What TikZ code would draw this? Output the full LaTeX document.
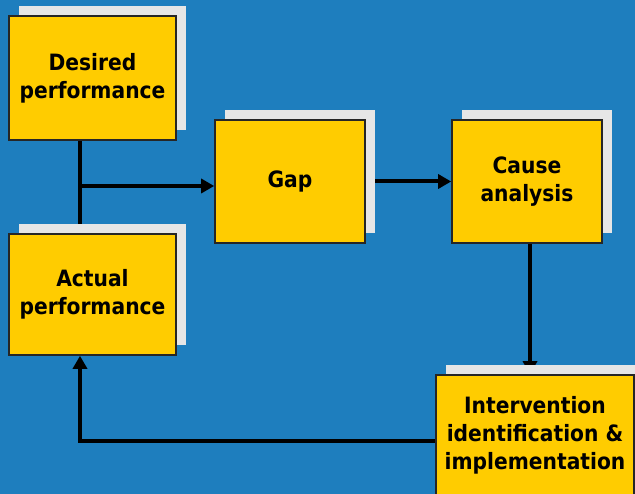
\documentclass[tikz,border=0pt]{standalone}
\usepackage{fontspec}
\setmainfont{DejaVu Sans Condensed}
\usetikzlibrary{arrows.meta,shadows}
\definecolor{slideblue}{RGB}{30,126,190}
\definecolor{boxyellow}{RGB}{255,204,0}
\definecolor{shadowgray}{RGB}{230,230,230}
\pgfdeclarelayer{backdrop}
\pgfdeclarelayer{links}
\pgfsetlayers{backdrop,links,main}
\tikzset{
  stepbox/.style={draw=black!85, line width=1.6pt, fill=boxyellow, align=center,
    inner sep=0pt, font=\bfseries\fontsize{22.5}{28}\selectfont,
    general shadow={shadow xshift=10pt, shadow yshift=10pt, fill=shadowgray}},
  link/.style={line width=4pt, -{Triangle[length=13pt,width=14pt]}}
}
\begin{document}
\begin{tikzpicture}[x=1pt, y=-1pt]
		\useasboundingbox (0,0) rectangle (635,494);
		\begin{pgfonlayer}{backdrop}
		\fill[slideblue] (0,0) rectangle (635,494);
		\end{pgfonlayer}
		% boxes
		\node[stepbox, minimum width=167pt, minimum height=124pt] (desired) at (92.5,78) {Desired\\performance};
		\node[stepbox, minimum width=167pt, minimum height=121pt] (actual) at (92.5,294.5) {Actual\\performance};
		\node[stepbox, minimum width=150pt, minimum height=123pt] (gap) at (290,181.5) {Gap};
		\node[stepbox, minimum width=150pt, minimum height=123pt] (cause) at (527,181.5) {Cause\\analysis};
		\node[stepbox, minimum width=198pt, minimum height=120pt] (interv) at (535,435) {Intervention\\identification \&\\implementation};
		% connectors
		\coordinate (split) at (80,186);
		\coordinate (back) at (80,441);
		\begin{pgfonlayer}{links}
		\draw[line width=4pt] (desired.south -| split) -- (actual.north -| split);
		\draw[link] (split) -- (split -| gap.west);
		\draw[link] (gap) -- (cause);
		\draw[link] ([xshift=3pt]cause.south) -- ([xshift=3pt]cause.south |- interv.north);
		\draw[link] (interv.west |- back) -- (back) -- (actual.south -| back);
		\end{pgfonlayer}
		\end{tikzpicture}
\end{document}
